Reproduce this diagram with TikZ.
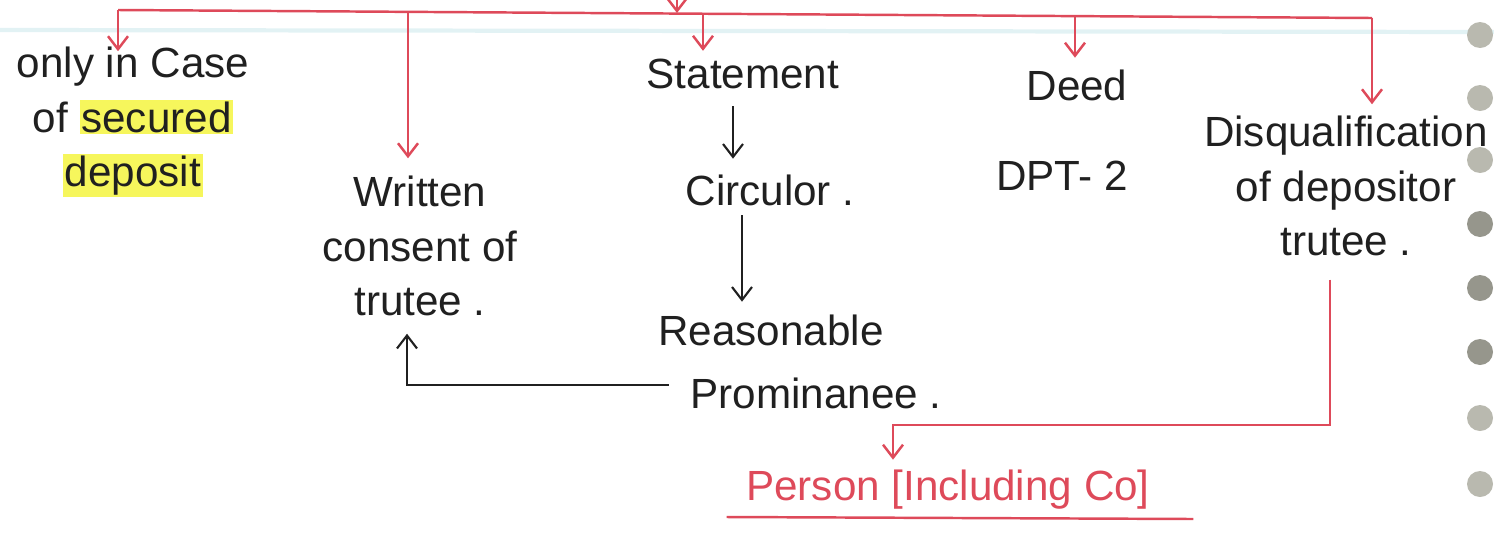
\documentclass[tikz,border=0pt]{standalone}
\usepackage{fontspec}
\setmainfont{Liberation Sans}
\usetikzlibrary{arrows.meta,calc}
\definecolor{penred}{RGB}{222,74,90}
\definecolor{ink}{RGB}{32,32,32}
\definecolor{hlyellow}{RGB}{246,246,92}
\definecolor{holegrey}{RGB}{185,185,175}
\definecolor{holedark}{RGB}{150,150,140}
\definecolor{rulecyan}{RGB}{226,242,244}
\newcommand\hlt[1]{{\setlength\fboxsep{0.5pt}\colorbox{hlyellow}{#1}}}
\begin{document}
\begin{tikzpicture}[x=0.01cm,y=-0.01cm,
  txt/.style={text=ink,font=\fontsize{12}{15.5}\selectfont,align=center,inner sep=2pt},
  redtxt/.style={text=penred,font=\fontsize{12}{15.5}\selectfont,inner sep=2pt},
  redline/.style={draw=penred,line width=0.7pt},
  redarr/.style={redline,-{Straight Barb[length=1.3mm,width=2mm]}},
  blkarr/.style={draw=ink,line width=0.6pt,-{Straight Barb[length=1.3mm,width=2mm]}},
  hole/.style={fill=#1,draw=none}]
\useasboundingbox (0,0) rectangle (1494,539);
% notebook background details
\draw[rulecyan,line width=1.2pt] (0,30) -- (1494,32);
\foreach \yy/\cc in {35/holegrey,98/holegrey,160/holegrey,224/holedark,288/holedark,352/holedark,418/holegrey,484/holegrey}
  \fill[\cc] (1480,\yy) circle (13);
% nodes
\node[txt] (onlyc) at (133,122) {only in Case\\of \hlt{secured}\\\hlt{deposit}};
\node[txt] (written) at (420,246) {Written\\consent of\\trutee .};
\node[txt,anchor=base] (stmt) at (743,88) {Statement};
\node[txt,anchor=base] (circ) at (770,205) {Circulor .};
\node[txt,anchor=base] (reas) at (771,345) {Reasonable};
\node[txt,anchor=base] (prom) at (816,408) {Prominanee .};
\node[txt,anchor=base] (deed) at (1077,100) {Deed};
\node[txt,anchor=base] (dpt) at (1062,190) {DPT- 2};
\node[txt] (disq) at (1346,186) {Disqualification\\of depositor\\trutee .};
\node[redtxt,anchor=base] (person) at (948,500) {Person [Including Co]};
% top bus
\coordinate (topin) at (677,0);
\coordinate (d1) at (118,10);
\coordinate (d2) at (408,12);
\coordinate (d3) at (703,13);
\coordinate (d4) at (1075,16);
\coordinate (d5) at (1372,18);
\draw[redline] (d1) -- (d5);
\draw[redarr] (topin) -- (topin |- d3);
\draw[redarr] (d1) -- ($(d1 |- onlyc.north)+(0,12)$);
\draw[redarr] (d2) -- ($(d2 |- written.north)+(0,-10)$);
\draw[redarr] (d3) -- (d3 |- stmt.north);
\draw[redarr] (d4) -- ($(d4 |- deed.north)+(0,-4)$);
\draw[redarr] (d5) -- ($(d5 |- disq.north)+(0,-4)$);
% black chain
\draw[blkarr] ($(stmt.south)+(-10,10)$) -- ($(circ.north)+(-37,-8)$);
\draw[blkarr] ($(circ.south)+(-28,2)$) -- ($(reas.north)+(-29,-5)$);
\draw[blkarr] ($(prom.west)+(-14,-8)$) -| ($(written.south)+(-13,10)$);
% red to person
\draw[redarr] ($(disq.south)+(-16,16)$) -- ++(0,145) -| ($(person.north)+(-55,-2)$);
\draw[redline] ($(person.base west)+(-12,17)$) -- ($(person.base east)+(36,19)$);
\end{tikzpicture}
\end{document}
